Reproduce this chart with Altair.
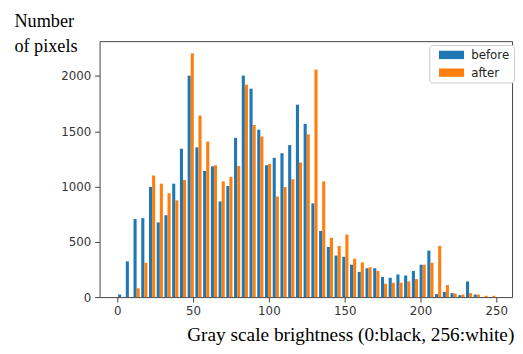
import altair as alt
import pandas as pd

# Histogram counts per bin (50 bins over 0..255)
before = [23, 323, 706, 714, 997, 676, 741, 1026, 1343, 2004,
          1355, 1142, 1183, 866, 1005, 1441, 2004, 1886, 1515, 1192,
          1260, 1302, 1376, 1741, 1568, 848, 599, 454, 376, 365,
          293, 228, 261, 261, 183, 175, 205, 196, 237, 293,
          421, 27, 47, 36, 18, 142, 23, 0, 0, 0]
after = [0, 0, 80, 311, 1100, 1026, 940, 875, 1059, 2206,
         1643, 1408, 1192, 1047, 1088, 1186, 1922, 1557, 1453, 1204,
         910, 996, 1067, 1219, 1473, 2058, 1047, 536, 462, 566,
         347, 314, 270, 237, 121, 130, 130, 142, 163, 293,
         311, 462, 109, 32, 23, 36, 23, 12, 12, 0]
series_names = ["before", "after"]
colors = ["#1f77b4", "#ff7f0e"]
x_ticks = [0, 50, 100, 150, 200, 250]
y_ticks = [0, 500, 1000, 1500, 2000]

BIN_W = 255 / 50
DR = 0.8
bar_w = DR * BIN_W / 2

rows = []
for si, (name, vals) in enumerate(zip(series_names, [before, after])):
    for k, v in enumerate(vals):
        left = k * BIN_W + (1 - DR) / 2 * BIN_W + si * bar_w
        rows.append({"series": name, "x0": left, "x1": left + bar_w, "count": v})
df = pd.DataFrame(rows)

chart = alt.Chart(df).mark_rect().encode(
    x=alt.X("x0:Q",
            scale=alt.Scale(domain=[-11.7, 260.4], nice=False, zero=False),
            axis=alt.Axis(values=x_ticks, grid=False, domain=False,
                          title="Gray scale brightness (0:black, 256:white)",
                          titleFont="Liberation Serif", titleFontSize=19.6,
                          titleFontWeight="normal", titleColor="#000",
                          titleAlign="left", titleBaseline="alphabetic",
                          titleX=88.5, titleY=44, titleAnchor="start")),
    x2="x1:Q",
    y=alt.Y("count:Q",
            scale=alt.Scale(domain=[0, 2316], nice=False),
            axis=alt.Axis(values=y_ticks, grid=False, domain=False, format="d",
                          title=["Number", "of pixels"],
                          titleFont="Liberation Serif", titleFontSize=18.5,
                          titleFontWeight="normal", titleColor="#000",
                          titleAngle=0, titleAlign="left",
                          titleBaseline="alphabetic", titleLineHeight=26,
                          titleX=-87, titleY=-15, titleAnchor="start")),
    y2=alt.datum(0),
    color=alt.Color("series:N",
                    scale=alt.Scale(domain=series_names, range=colors),
                    sort=series_names,
                    legend=alt.Legend(title=None, orient="none",
                                      legendX=335, legendY=4,
                                      symbolType="M-3,-1H3V1H-3Z",
                                      symbolSize=72, symbolStrokeWidth=0,
                                      symbolOffset=12.5,
                                      labelFont="DejaVu Sans", labelFontSize=12,
                                      labelColor="#222", labelOffset=14,
                                      rowPadding=6, padding=4,
                                      strokeColor="#cccccc", fillColor="white",
                                      cornerRadius=3)),
).properties(
    width=419, height=260,
    autosize=alt.AutoSizeParams(type="none"),
    padding={"left": 93, "top": 31, "right": 3, "bottom": 47},
).configure_view(
    stroke="#444", strokeWidth=1
).configure_axis(
    labelFont="DejaVu Sans", labelFontSize=12, labelColor="#333",
    tickColor="#444", tickSize=5, labelPadding=4
)

chart.save("out.html", embed_options={"renderer": "svg", "actions": False})
